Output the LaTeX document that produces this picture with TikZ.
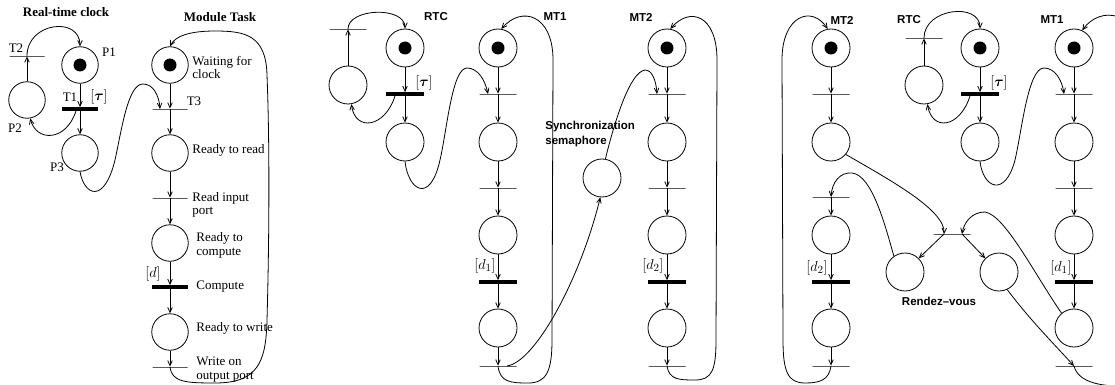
\documentclass[tikz,border=0pt]{standalone}
\usepackage{amsmath}
\usepackage{fontspec}
\setmainfont{Liberation Serif}
\newfontfamily\labelsans{Liberation Sans}
\usetikzlibrary{arrows.meta}

\begin{document}
\begin{tikzpicture}[x=1pt,y=-1pt,line width=0.8pt,>={Straight Barb[length=5pt,width=4.5pt]}]
  \tikzstyle{place}=[circle,draw,minimum size=38pt,inner sep=0pt]
  \tikzstyle{marked place}=[place,path picture={\fill (path picture bounding box.center) circle (6.5pt);}]
  \tikzstyle{transition}=[rectangle,draw,minimum width=37pt,minimum height=0pt,inner sep=0pt]
  \tikzstyle{timed transition}=[transition,fill,minimum height=3pt]
  \tikzstyle{pre}=[<-]
  \tikzstyle{note}=[font=\fontsize{13}{13.5}\selectfont,inner sep=0pt]
  \tikzstyle{side note}=[note,anchor=west,align=left]
  \tikzstyle{title}=[font=\fontsize{13}{15}\selectfont\bfseries,inner sep=0pt]
  \tikzstyle{tag}=[font=\labelsans\bfseries\fontsize{11.5}{15}\selectfont,inner sep=0pt]
  \tikzstyle{delay}=[font=\fontsize{15}{15}\selectfont,inner sep=0pt]

  \clip (0,0) rectangle (1115,385);

  % real-time clock and module task
  \begin{scope}[place/.append style={minimum size=36.5pt},transition/.append style={minimum width=35pt}]
    \node [marked place] (p1) at (80,65) {};
    \node [timed transition] (t1) at (80,109) {} edge [pre] (p1);
    \node [place] (p3) at (80,153) {} edge [pre] (t1);
    \node [place] (p2) at (27,100) {};
    \node [transition] (t2) at (27,56) {} edge [pre] (p2);
    \node [marked place] (wc) at (170,65) {};
    \node [transition] (t3) at (170,109) {} edge [pre] (wc);
    \node [place] (rr) at (170,153) {} edge [pre] (t3);
    \node [transition] (ri) at (170,198) {} edge [pre] (rr);
    \node [place] (rc) at (170,243) {} edge [pre] (ri);
    \node [timed transition] (cp) at (170,287) {} edge [pre] (rc);
    \node [place] (rw) at (170,332) {} edge [pre] (cp);
    \node [transition] (wo) at (170,367) {} edge [pre] (rw);
  \end{scope}
  \draw [->] (t2.center) .. controls (27,22) and (80,16) .. (p1.north);
  \draw [->] ([xshift=-4]t1.south) .. controls (66,142) and (36,142) .. (p2.-80);
  \draw [->] (p3.south) .. controls (84,195) and (104,205) .. (115,160)
    .. controls (122,128) and (128,84) .. (143,84)
    .. controls (153,84) and (159,95) .. ([xshift=-10]t3.center);
  \draw [->] (wo.center) .. controls (172,382) and (185,383) .. (215,383)
    .. controls (258,383) and (266,362) .. (267,320)
    .. controls (269,250) and (270,150) .. (267,75)
    .. controls (266,35) and (245,31) .. (215,31)
    .. controls (190,31) and (175,36) .. (wc.north);
  \node [title] (clock title) at (66,12) {Real-time clock};
  \node [title] (task title) at (220,17) {Module Task};
  \node [note] (t2 label) at (16,48) {T2};
  \node [note] (p1 label) at (109,52) {P1};
  \node [note] (t1 label) at (70,97) {T1};
  \node [delay] (tau label) at (99,97) {$[\boldsymbol\tau]$};
  \node [note] (p2 label) at (15,128) {P2};
  \node [note] (p3 label) at (57,167) {P3};
  \node [side note] (wc label) at (192,67.5) {Waiting for\\clock};
  \node [note] (t3 label) at (194,101) {T3};
  \node [side note] (rr label) at (192,150) {Ready to read};
  \node [side note] (ri label) at (192,205) {Read input\\port};
  \node [side note] (rc label) at (196,245.5) {Ready to\\compute};
  \node [delay] (d label) at (153,274) {$[d]$};
  \node [side note] (cp label) at (196,287) {Compute};
  \node [side note] (rw label) at (196,328) {Ready to write};
  \node [side note] (wo label) at (196,369.5) {Write on\\output port};

  % synchronization semaphore
  \node [marked place] (ra) at (405,48) {};
  \node [timed transition] (ra-bar) at (405,94) {} edge [pre] (ra);
  \node [place] (ra-out) at (405,142) {} edge [pre] (ra-bar);
  \node [place] (ra-back) at (348,85) {};
  \node [transition] (ra-tick) at (348,29) {} edge [pre] (ra-back);
  \node [marked place] (ma1) at (498,48) {};
  \node [transition] (ma1t) at (498,94) {} edge [pre] (ma1);
  \node [place] (ma2) at (498,142) {} edge [pre] (ma1t);
  \node [transition] (ma2t) at (498,188) {} edge [pre] (ma2);
  \node [place] (ma3) at (498,235) {} edge [pre] (ma2t);
  \node [timed transition] (ma3t) at (498,282) {} edge [pre] (ma3);
  \node [place] (ma4) at (498,328) {} edge [pre] (ma3t);
  \node [transition] (ma4t) at (498,366) {} edge [pre] (ma4);
  \node [place] (sem) at (602,178) {};
  \node [marked place] (na1) at (667,48) {};
  \node [transition] (na1t) at (667,94) {} edge [pre] (na1);
  \node [place] (na2) at (667,142) {} edge [pre] (na1t);
  \node [transition] (na2t) at (667,188) {} edge [pre] (na2);
  \node [place] (na3) at (667,235) {} edge [pre] (na2t);
  \node [timed transition] (na3t) at (667,282) {} edge [pre] (na3);
  \node [place] (na4) at (667,328) {} edge [pre] (na3t);
  \node [transition] (na4t) at (667,366) {} edge [pre] (na4);
  \draw [->] (ra-tick.center) .. controls (348,8) and (405,6) .. (ra.north);
  \draw [->] ([xshift=-10]ra-bar.south) .. controls (385,128) and (355,132) .. (ra-back.-80);
  \draw [->] (ra-out.south) .. controls (408,190) and (430,205) .. (440,160)
    .. controls (447,130) and (452,68) .. (467,68)
    .. controls (478,68) and (485,80) .. ([xshift=-10]ma1t.center);
  \draw [->] (ma4t.center) .. controls (500,382) and (510,383) .. (528,383)
    .. controls (546,383) and (552,372) .. (552,340) -- (553,60)
    .. controls (553,15) and (522,5) .. (ma1.80);
  \draw [->] ([xshift=9]ma4t.center) .. controls (535,362) and (580,280) .. (sem.-95);
  \draw [->] (sem.80) .. controls (615,120) and (630,72) .. (645,70)
    .. controls (652,70) and (656,80) .. ([xshift=-10]na1t.center);
  \draw [->] (na4t.center) .. controls (669,380) and (680,380) .. (695,380)
    .. controls (712,380) and (716,370) .. (716,340) -- (717,60)
    .. controls (717,15) and (690,6) .. (na1.80);
  \node [tag] (ra label) at (436,17) {RTC};
  \node [tag] (ma label) at (555,17) {MT1};
  \node [tag] (na label) at (641,17) {MT2};
  \node [tag,anchor=west,align=left] (sem label) at (545,134) {Synchronization\\semaphore};
  \node [delay] (ra delay) at (424,83) {$[\boldsymbol\tau]$};
  \node [delay] (ma delay) at (485,266) {$[d_1]$};
  \node [delay] (na delay) at (653,266) {$[d_2]$};

  % rendez-vous
  \node [marked place] (nb1) at (831,48) {};
  \node [transition] (nb1t) at (831,94) {} edge [pre] (nb1);
  \node [place] (nb2) at (831,142) {} edge [pre] (nb1t);
  \node [transition] (nb2t) at (831,197) {};
  \node [place] (nb3) at (831,235) {} edge [pre] (nb2t);
  \node [timed transition] (nb3t) at (831,282) {} edge [pre] (nb3);
  \node [place] (nb4) at (831,328) {} edge [pre] (nb3t);
  \node [transition] (nb4t) at (831,366) {} edge [pre] (nb4);
  \node [marked place] (rb) at (980,48) {};
  \node [timed transition] (rb-bar) at (980,94) {} edge [pre] (rb);
  \node [place] (rb-out) at (980,142) {} edge [pre] (rb-bar);
  \node [place] (rb-back) at (924,85) {};
  \node [transition] (rb-tick) at (924,38) {} edge [pre] (rb-back);
  \node [marked place] (mb1) at (1074,48) {};
  \node [transition] (mb1t) at (1074,94) {} edge [pre] (mb1);
  \node [place] (mb2) at (1074,142) {} edge [pre] (mb1t);
  \node [transition] (mb2t) at (1074,188) {} edge [pre] (mb2);
  \node [place] (mb3) at (1074,235) {} edge [pre] (mb2t);
  \node [timed transition] (mb3t) at (1074,282) {} edge [pre] (mb3);
  \node [place] (mb4) at (1074,328) {} edge [pre] (mb3t);
  \node [transition] (mb4t) at (1074,366) {};
  \node [transition] (rv) at (952,234) {};
  \node [place] (rvl) at (905,272) {};
  \node [place] (rvr) at (999,272) {};
  \draw [->] (nb4t.center) .. controls (829,380) and (820,383) .. (805,383)
    .. controls (788,383) and (783,372) .. (783,340) -- (782,60)
    .. controls (782,15) and (812,5) .. (nb1.100);
  \draw [->] (rb-tick.center) .. controls (924,8) and (980,2) .. (rb.north);
  \draw [->] ([xshift=-10]rb-bar.south) .. controls (960,128) and (932,132) .. (rb-back.-80);
  \draw [->] (rb-out.south) .. controls (983,188) and (1005,198) .. (1015,160)
    .. controls (1022,130) and (1028,68) .. (1044,68)
    .. controls (1055,68) and (1062,80) .. ([xshift=-10]mb1t.center);
  \draw [->] (nb2.-40) .. controls (890,180) and (945,210) .. ([xshift=-8]rv.center);
  \draw [->] ([xshift=-8]rv.center) -- (rvl.45);
  \draw [->] ([xshift=10]rv.center) -- (rvr.135);
  \draw [->] (rvl.125) .. controls (885,225) and (872,175) .. (852,173)
    .. controls (840,172) and (832,182) .. (nb2t.center);
  \draw [->] (mb4.130) .. controls (1035,275) and (1005,215) .. (985,212)
    .. controls (972,212) and (964,222) .. ([xshift=10]rv.center);
  \draw [->] (rvr.-65) .. controls (1030,320) and (1055,345) .. (mb4t.center);
  \draw [->] (mb4t.center) .. controls (1078,382) and (1100,386) .. (1120,386)
    .. controls (1140,386) and (1140,370) .. (1140,340) -- (1140,60)
    .. controls (1140,10) and (1100,5) .. (mb1.65);
  \node [tag] (nb label) at (842,20) {MT2};
  \node [tag] (rb label) at (909,20) {RTC};
  \node [tag] (mb label) at (1052,20) {MT1};
  \node [tag] (rv label) at (939,301) {Rendez–vous};
  \node [delay] (rb delay) at (999,83) {$[\boldsymbol\tau]$};
  \node [delay] (nb delay) at (817,268) {$[d_2]$};
  \node [delay] (mb delay) at (1061,268) {$[d_1]$};
\end{tikzpicture}
\end{document}
